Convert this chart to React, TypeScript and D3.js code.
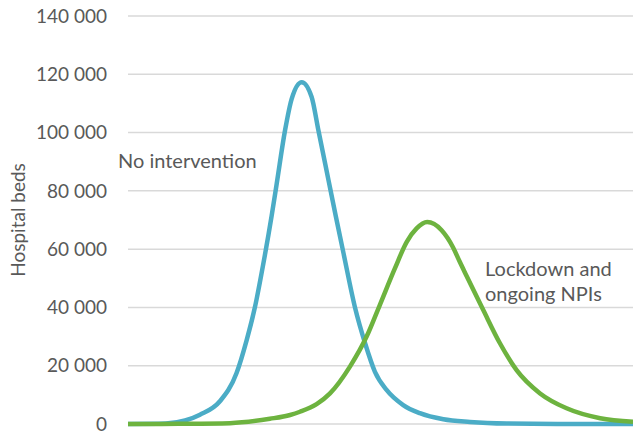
import React from "react";
import * as d3 from "d3";

const yTicks = [0, 20000, 40000, 60000, 80000, 100000, 120000, 140000];

const noInterventionDays = [0, 15, 22.6, 28.5, 36.4, 43, 47, 50.3, 53.6, 56.9, 58.9, 62.2, 64.8, 68.8, 72.7, 75.4, 79.4, 82.3, 85.3, 89.9, 93.9, 97.8, 102.4, 109, 115.6, 124.9, 135.4, 150, 170, 200];
const noInterventionBeds = [0, 150, 1200, 3200, 7800, 17500, 28800, 40200, 55000, 71500, 82500, 100800, 111500, 117300, 112300, 100800, 83700, 71300, 58800, 40000, 27700, 17900, 11700, 6500, 3700, 1600, 700, 150, 0, 0];

const lockdownDays = [0, 20, 40.4, 56.2, 64.2, 68.1, 74.7, 80, 87.9, 94.5, 99.8, 105.7, 110.4, 114.3, 118.5, 124.2, 128.8, 131.2, 134.1, 140.7, 147.3, 153.9, 163.2, 173.7, 187, 200];
const lockdownBeds = [0, 80, 300, 1800, 3100, 4200, 6800, 10500, 19700, 30000, 41000, 53400, 62500, 67100, 69300, 66500, 60500, 56000, 50800, 39100, 27700, 18500, 10500, 5400, 2000, 800];

const W = 633;
const H = 440;

export default function App() {
  const x = d3.scaleLinear().domain([0, 200]).range([128, 633]);
  const y = d3.scaleLinear().domain([0, 140000]).range([424, 16]);
  const line = d3
    .line<[number, number]>()
    .x((d) => x(d[0]))
    .y((d) => y(d[1]))
    .curve(d3.curveMonotoneX);
  const blue = noInterventionDays.map((d, i) => [d, noInterventionBeds[i]] as [number, number]);
  const green = lockdownDays.map((d, i) => [d, lockdownBeds[i]] as [number, number]);
  const fmt = (v: number) => d3.format(",")(v).replace(/,/g, " ");
  const font = "Lato, 'Open Sans', sans-serif";
  return (
    <svg
      width={W}
      height={H}
      style={{ position: "absolute", left: 0, top: 0, background: "#fff" }}
      fontFamily={font}
    >
      {yTicks.map((t) => (
        <g key={t}>
          <line x1={128} x2={633} y1={y(t)} y2={y(t)} stroke="#d9d9d9" strokeWidth={1.5} />
          <text x={107} y={y(t)} dy="0.35em" textAnchor="end" fontSize={19} fill="#595959">
            {fmt(t)}
          </text>
        </g>
      ))}
      <text
        transform={`translate(25,${(y(0) + y(140000)) / 2}) rotate(-90)`}
        textAnchor="middle"
        fontSize={19}
        fill="#595959"
      >
        Hospital beds
      </text>
      <path d={line(blue) || ""} fill="none" stroke="#4BACC6" strokeWidth={4.5} strokeLinejoin="round" />
      <path d={line(green) || ""} fill="none" stroke="#6DB33F" strokeWidth={4.5} strokeLinejoin="round" />
      <text x={118} y={168} fontSize={20} fill="#595959">No intervention</text>
      <text x={485} y={276} fontSize={20} fill="#595959">Lockdown and</text>
      <text x={485} y={301} fontSize={20} fill="#595959">ongoing NPIs</text>
    </svg>
  );
}
